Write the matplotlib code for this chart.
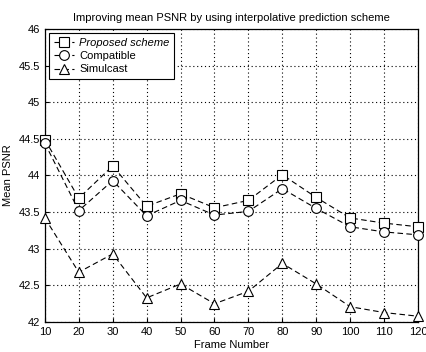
import numpy as np
import matplotlib.pyplot as plt

plt.rcParams['font.family'] = ['Liberation Sans', 'DejaVu Sans']

# Data
frames = [10, 20, 30, 40, 50, 60, 70, 80, 90, 100, 110, 120]
proposed = [44.49, 43.69, 44.13, 43.58, 43.75, 43.56, 43.66, 44.01, 43.70, 43.42, 43.35, 43.30]
compatible = [44.44, 43.52, 43.93, 43.45, 43.66, 43.46, 43.51, 43.82, 43.55, 43.30, 43.23, 43.19]
simulcast = [43.42, 42.68, 42.93, 42.33, 42.52, 42.25, 42.42, 42.80, 42.52, 42.21, 42.13, 42.08]

fig = plt.figure(figsize=(4.27, 3.52), dpi=100)
ax = fig.add_axes([0.105, 0.085, 0.874, 0.833])

style = dict(color='black', linestyle=(0, (5, 3)), linewidth=0.8,
             markerfacecolor='white', markeredgecolor='black',
             markeredgewidth=0.8, markersize=7, clip_on=False)
ax.plot(frames, proposed, marker='s', label='Proposed scheme', zorder=3, **style)
ax.plot(frames, compatible, marker='o', label='Compatible', zorder=3, **style)
ax.plot(frames, simulcast, marker='^', label='Simulcast', zorder=3, **style)

ax.set_xlim(10, 120)
ax.set_ylim(42, 46)
ax.set_xticks(np.arange(10, 121, 10))
ax.set_yticks(np.arange(42, 46.01, 0.5))
ax.set_yticklabels(['42', '42.5', '43', '43.5', '44', '44.5', '45', '45.5', '46'])
ax.tick_params(direction='in', labelsize=8, length=3, width=0.8)
ax.grid(True, color='black', linestyle=(0, (1, 2.5)), linewidth=0.8)
for s in ax.spines.values():
    s.set_linewidth(0.9)

ax.set_title('Improving mean PSNR by using interpolative prediction scheme', fontsize=8, pad=6)
ax.set_xlabel('Frame Number', fontsize=8, labelpad=2)
ax.set_ylabel('Mean PSNR', fontsize=8, labelpad=4)

leg = ax.legend(loc='upper left', fontsize=8, frameon=True, fancybox=False,
                edgecolor='black', framealpha=1, handlelength=1.8,
                borderpad=0.4, labelspacing=0.3, handletextpad=0.5,
                borderaxespad=0.4)
leg.get_frame().set_linewidth(0.8)
leg.get_texts()[0].set_style('italic')

fig.savefig('out.png', dpi=100)
